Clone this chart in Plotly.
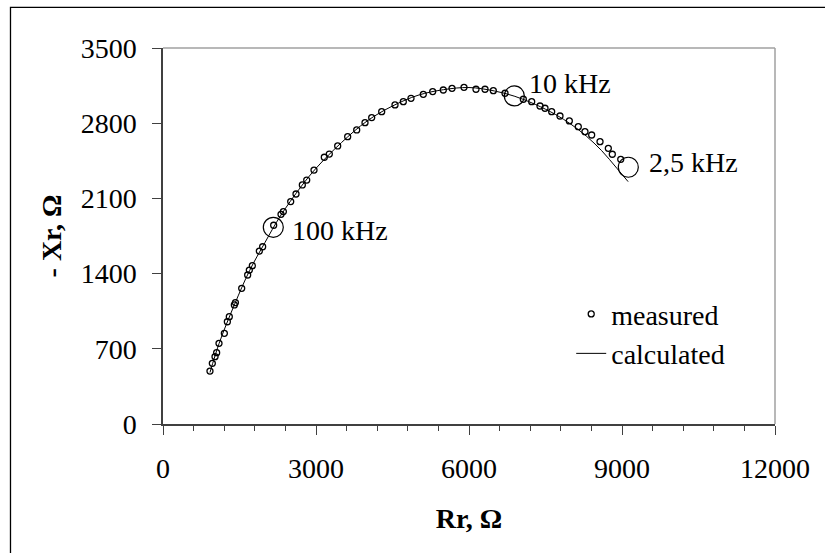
import plotly.graph_objects as go

# Measured points (Rr, -Xr) in ohms
measured_r = [921, 967, 1020, 1052, 1098, 1203, 1262, 1300, 1399, 1420, 1543, 1660, 1693, 1752,
              1889, 1954, 2170, 2314, 2360, 2504, 2608, 2732, 2818, 2961, 3163, 3261, 3425, 3621,
              3798, 3961, 4092, 4288, 4549, 4712, 4863, 5104, 5288, 5496, 5667, 5902, 6137, 6314,
              6477, 6706, 7065, 7229, 7392, 7490, 7621, 7784, 7967, 8143, 8274, 8405, 8569, 8732,
              8810, 8975]
measured_x = [493, 565, 627, 664, 751, 844, 952, 999, 1108, 1130, 1263, 1387, 1433, 1474,
              1610, 1650, 1850, 1952, 1977, 2070, 2141, 2225, 2271, 2364, 2483, 2513, 2588, 2675,
              2737, 2805, 2852, 2907, 2970, 3000, 3032, 3069, 3094, 3109, 3125, 3134, 3116, 3116,
              3103, 3079, 3023, 3000, 2960, 2939, 2907, 2867, 2821, 2768, 2721, 2690, 2628, 2566,
              2511, 2464]

# Calculated curve
calc_r = [921, 1100, 1400, 1700, 2000, 2300, 2700, 3000, 3500, 4000, 4500, 5000, 5500, 6000,
          6500, 6900, 7300, 7700, 8000, 8300, 8600, 8900, 9120]
calc_x = [480, 750, 1110, 1430, 1690, 1935, 2205, 2380, 2620, 2820, 2960, 3060, 3112, 3132,
          3100, 3050, 2975, 2880, 2790, 2680, 2545, 2380, 2256]

# Highlighted frequencies
freq_r = [2163, 6889, 9124]
freq_x = [1831, 3054, 2390]
freq_labels = ["100 kHz", "10 kHz", "2,5 kHz"]
label_shift = [(17, -3), (13, 12), (19, 5)]

x_ticks = [0, 3000, 6000, 9000, 12000]
x_ticktext = ["0", "3000", "6000", "9000", "12000"]
y_ticks = [0, 700, 1400, 2100, 2800, 3500]
y_ticktext = ["0", "700", "1400", "2100", "2800", "3500"]

FONT = "Liberation Serif, Times New Roman, serif"

fig = go.Figure()
fig.add_trace(go.Scatter(
    x=calc_r, y=calc_x, mode="lines", name="calculated",
    line=dict(color="black", width=1, shape="spline"),
))
fig.add_trace(go.Scatter(
    x=measured_r, y=measured_x, mode="markers", name="measured",
    marker=dict(symbol="circle-open", size=6, color="black", line=dict(width=1.3)),
))
fig.add_trace(go.Scatter(
    x=freq_r, y=freq_x, mode="markers", showlegend=False,
    marker=dict(symbol="circle-open", size=20, color="black", line=dict(width=1.2)),
))

for r, x, t, (dx, dy) in zip(freq_r, freq_x, freq_labels, label_shift):
    fig.add_annotation(x=r, y=x, text=t, showarrow=False, xanchor="left",
                       xshift=dx, yshift=dy, font=dict(family=FONT, size=28, color="black"))

fig.update_layout(
    width=825, height=553,
    margin=dict(l=163, r=50, t=48, b=129),
    paper_bgcolor="white", plot_bgcolor="white",
    font=dict(family=FONT, size=28, color="black"),
    legend=dict(x=0.667, y=0.24, xanchor="left", yanchor="middle",
                traceorder="reversed", bgcolor="rgba(0,0,0,0)",
                font=dict(family=FONT, size=28, color="black"), tracegroupgap=0, itemwidth=30),
    shapes=[
        dict(type="rect", xref="paper", yref="paper", x0=-0.2492, x1=1.3, y0=-0.6, y1=1.1082,
             line=dict(color="black", width=1.3)),
        dict(type="line", xref="paper", yref="paper", x0=0, x1=1, y0=1, y1=1,
             line=dict(color="#a0a0a0", width=1.5)),
        dict(type="line", xref="paper", yref="paper", x0=1, x1=1, y0=0, y1=1,
             line=dict(color="#a0a0a0", width=1.5)),
    ],
)

fig.update_xaxes(
    range=[0, 12000], tickvals=x_ticks, ticktext=x_ticktext, ticks="outside", ticklen=9,
    tickwidth=1.3, tickcolor="#404040", showline=True, linecolor="#404040", linewidth=1.5,
    showgrid=False, zeroline=False, ticklabelstandoff=10,
    minor=dict(dtick=600, tick0=0, ticks="outside", ticklen=5, tickcolor="#404040", tickwidth=1.2),
    title=dict(text="<b>Rr, Ω</b>", font=dict(family=FONT, size=28, color="black"), standoff=25),
    tickfont=dict(family=FONT, size=28, color="black"),
)
fig.update_yaxes(
    range=[0, 3500], tickvals=y_ticks, ticktext=y_ticktext, ticks="outside", ticklen=9,
    tickwidth=1.3, tickcolor="#404040", showline=True, linecolor="#404040", linewidth=1.5,
    showgrid=False, zeroline=False, ticklabelstandoff=10,
    title=dict(text="<b>- Xr, Ω</b>", font=dict(family=FONT, size=28, color="black"), standoff=11),
    tickfont=dict(family=FONT, size=28, color="black"),
)

fig.write_html("out.html")
